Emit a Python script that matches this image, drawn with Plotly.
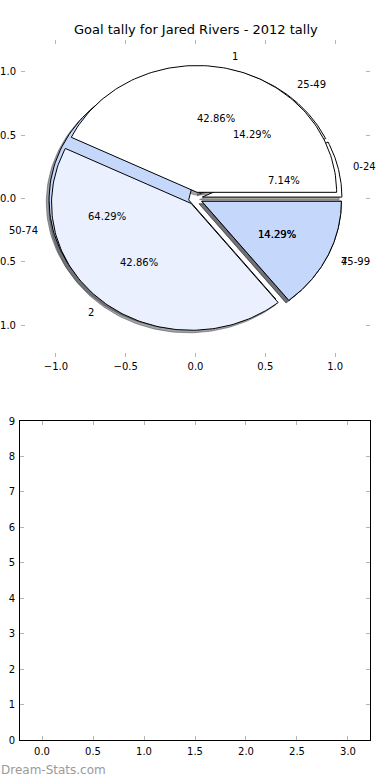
import numpy as np
import plotly.graph_objects as go

# ---- data ----
bucket_labels = ["0-24", "25-49", "50-74", "75-99"]
bucket_values = [1, 2, 9, 2]
goal_labels = ["1", "2", "4"]
goal_values = [3, 3, 1]
title_text = "Goal tally for Jared Rivers - 2012 tally"
watermark = "Dream-Stats.com"

# ---- style ----
palette = ["#ffffff", "#eaf0fd", "#c5d8fc"]
EXPLODE = 0.05
SHADOW = (-0.02, -0.02)
FONT = "DejaVu Sans"
W, H = 390, 780


def hex_rgb(h):
    h = h.lstrip("#")
    return tuple(int(h[i:i + 2], 16) for i in (0, 2, 4))


def pie_geometry(values):
    total = float(sum(values))
    cum = np.concatenate([[0.0], np.cumsum(values)]) / total * 360.0
    out = []
    for i in range(len(values)):
        t1, t2 = cum[i], cum[i + 1]
        m = np.deg2rad((t1 + t2) / 2)
        cx, cy = EXPLODE * np.cos(m), EXPLODE * np.sin(m)
        th = np.deg2rad(np.linspace(t1, t2, 120))
        xs = np.concatenate([[cx], cx + np.cos(th), [cx]])
        ys = np.concatenate([[cy], cy + np.sin(th), [cy]])
        out.append(dict(xs=xs, ys=ys, cx=cx, cy=cy, m=m, frac=values[i] / total))
    return out


pies = [(bucket_labels, bucket_values), (goal_labels, goal_values)]
geoms = [pie_geometry(v) for _, v in pies]

fig = go.Figure()

# shadows (drawn below all wedges)
for g in geoms:
    for i, w in enumerate(g):
        r, gg, b = hex_rgb(palette[i % len(palette)])
        col = "rgba(%d,%d,%d,0.5)" % (int(0.3 * r), int(0.3 * gg), int(0.3 * b))
        fig.add_trace(go.Scatter(
            x=w["xs"] + SHADOW[0], y=w["ys"] + SHADOW[1], mode="lines",
            fill="toself", fillcolor=col, line=dict(color=col, width=1),
            hoverinfo="skip", showlegend=False, xaxis="x", yaxis="y"))

# wedges
for (labels, vals), g in zip(pies, geoms):
    for i, w in enumerate(g):
        fig.add_trace(go.Scatter(
            x=w["xs"], y=w["ys"], mode="lines", fill="toself",
            fillcolor=palette[i % len(palette)],
            line=dict(color="black", width=1),
            name=labels[i], hoverinfo="name", showlegend=False,
            xaxis="x", yaxis="y"))

annotations = []
for (labels, vals), g in zip(pies, geoms):
    for i, w in enumerate(g):
        lx = w["cx"] + 1.1 * np.cos(w["m"])
        ly = w["cy"] + 1.1 * np.sin(w["m"])
        annotations.append(dict(
            x=lx, y=ly, xref="x", yref="y", text=labels[i], showarrow=False,
            xanchor="left" if lx > 0 else "right", yanchor="middle",
            font=dict(family=FONT, size=10, color="black"), borderpad=0))
        px = w["cx"] + 0.6 * np.cos(w["m"])
        py = w["cy"] + 0.6 * np.sin(w["m"])
        annotations.append(dict(
            x=px, y=py, xref="x", yref="y", text="%.2f%%" % (w["frac"] * 100),
            showarrow=False, xanchor="center", yanchor="middle",
            font=dict(family=FONT, size=10, color="black"), borderpad=0))

annotations.append(dict(
    x=195.5 / W, y=1 - 30 / H, xref="paper", yref="paper", text=title_text,
    showarrow=False, xanchor="center", yanchor="middle",
    font=dict(family=FONT, size=13, color="black")))
annotations.append(dict(
    x=-1 / W, y=1 - 770 / H, xref="paper", yref="paper", text=watermark,
    showarrow=False, xanchor="left", yanchor="middle",
    font=dict(family=FONT, size=12, color="#9a9a9a")))

# empty bottom axes: invisible anchor trace
fig.add_trace(go.Scatter(x=[], y=[], xaxis="x2", yaxis="y2", showlegend=False))

tickfont = dict(family=FONT, size=10, color="black")
common_top = dict(showgrid=False, zeroline=False, showline=False, ticks="inside",
                  ticklen=4, tickcolor="#b5b5b5", tickwidth=1, mirror="ticks",
                  tickfont=tickfont, tickformat=".1f", dtick=0.5, tick0=0,
                  automargin=False)
common_bot = dict(showgrid=False, zeroline=False, showline=True, linecolor="black",
                  linewidth=1, mirror="ticks", ticks="inside", ticklen=4,
                  tickcolor="#b5b5b5", tickfont=tickfont, tick0=0,
                  automargin=False, ticklabelstandoff=2)

fig.update_layout(
    width=W, height=H, margin=dict(l=0, r=0, t=0, b=0, pad=0),
    paper_bgcolor="white", plot_bgcolor="white",
    showlegend=False,
    xaxis=dict(domain=[21 / W, 370 / W], range=[-1.25, 1.25], anchor="y",
               ticklabelstandoff=2, **common_top),
    yaxis=dict(domain=[1 - 357 / H, 1 - 40 / H], range=[-1.25, 1.25], anchor="x",
               ticklabelstandoff=4, **common_top),
    xaxis2=dict(domain=[20 / W, 370 / W], range=[-0.216, 3.216], anchor="y2",
                tickformat=".1f", dtick=0.5, **common_bot),
    yaxis2=dict(domain=[1 - 740 / H, 1 - 421 / H], range=[0, 9], anchor="x2",
                dtick=1, **common_bot),
    annotations=annotations,
)

fig.write_html("out.html",
               config={"displayModeBar": False},
               post_script="document.body.style.margin='0';")
